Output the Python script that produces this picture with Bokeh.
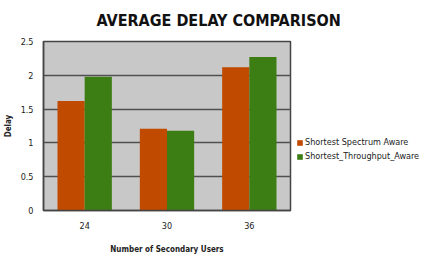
from bokeh.plotting import figure
from bokeh.models import FactorRange, Legend, LegendItem, Title, FixedTicker, ColumnDataSource
from bokeh.transform import dodge
from bokeh.embed import file_html
from bokeh.resources import INLINE

categories = ["24", "30", "36"]
spectrum_aware = [1.62, 1.21, 2.12]
throughput_aware = [1.98, 1.18, 2.27]
y_ticks = [0, 0.5, 1, 1.5, 2, 2.5]
y_tick_labels = ["0", "0.5", "1", "1.5", "2", "2.5"]
series_names = ["Shortest Spectrum Aware", "Shortest_Throughput_Aware"]

FONT = "'Liberation Sans Narrow', 'DejaVu Sans Condensed', 'Open Sans', sans-serif"

src = ColumnDataSource(dict(cat=categories, s=spectrum_aware, t=throughput_aware))

p = figure(frame_width=247, frame_height=169, x_range=FactorRange(*categories), y_range=(0, 2.5),
           output_backend="svg", toolbar_location=None,
           min_border_left=0, min_border_top=0, min_border_right=0, min_border_bottom=0)
p.background_fill_color = "#c8c8c8"
p.border_fill_color = "white"
p.outline_line_color = "#444444"
p.outline_line_width = 1.5

r1 = p.vbar(x=dodge("cat", -0.165, range=p.x_range), top="s", width=0.33, source=src,
            fill_color="#c04a00", line_color=None)
r2 = p.vbar(x=dodge("cat", 0.165, range=p.x_range), top="t", width=0.33, source=src,
            fill_color="#3c7d14", line_color=None)

p.yaxis.ticker = FixedTicker(ticks=y_ticks)
p.yaxis.major_label_overrides = {t: l for t, l in zip(y_ticks, y_tick_labels)}
p.ygrid.grid_line_color = "#505050"
p.ygrid.grid_line_width = 1.5
p.xgrid.grid_line_color = None

for ax in (p.xaxis, p.yaxis):
    ax.axis_line_color = "#444444"
    ax.axis_line_width = 1.5
    ax.major_tick_line_color = None
    ax.minor_tick_line_color = None
    ax.major_label_text_font = FONT
    ax.major_label_text_font_size = "9px"
    ax.major_label_text_color = "#222222"
    ax.axis_label_text_font = FONT
    ax.axis_label_text_font_style = "bold"
    ax.axis_label_text_font_size = "8px"
    ax.axis_label_text_color = "#222222"

p.xaxis.axis_label = "Number of Secondary Users"
p.xaxis.major_label_standoff = 5
p.xaxis.axis_label_standoff = 13
p.yaxis.axis_label = "Delay"
p.yaxis.major_label_standoff = 4
p.yaxis.axis_label_standoff = 5

legend = Legend(items=[LegendItem(label=series_names[0], renderers=[r1]),
                       LegendItem(label=series_names[1], renderers=[r2])],
                location=(6, 48), border_line_color=None, background_fill_alpha=0,
                label_text_font=FONT, label_text_font_size="9px", label_text_color="#222222",
                glyph_width=7, glyph_height=7, label_standoff=2, spacing=2, padding=0, margin=8,
                label_height=12)
p.add_layout(legend, "right")

title = Title(text="AVERAGE DELAY COMPARISON", align="left", offset=53, vertical_align="top",
              text_font=FONT, text_font_style="bold", text_font_size="16px",
              text_color="#111111", standoff=20)
p.add_layout(title, "above")

open("out.html", "w").write(file_html(p, INLINE))
